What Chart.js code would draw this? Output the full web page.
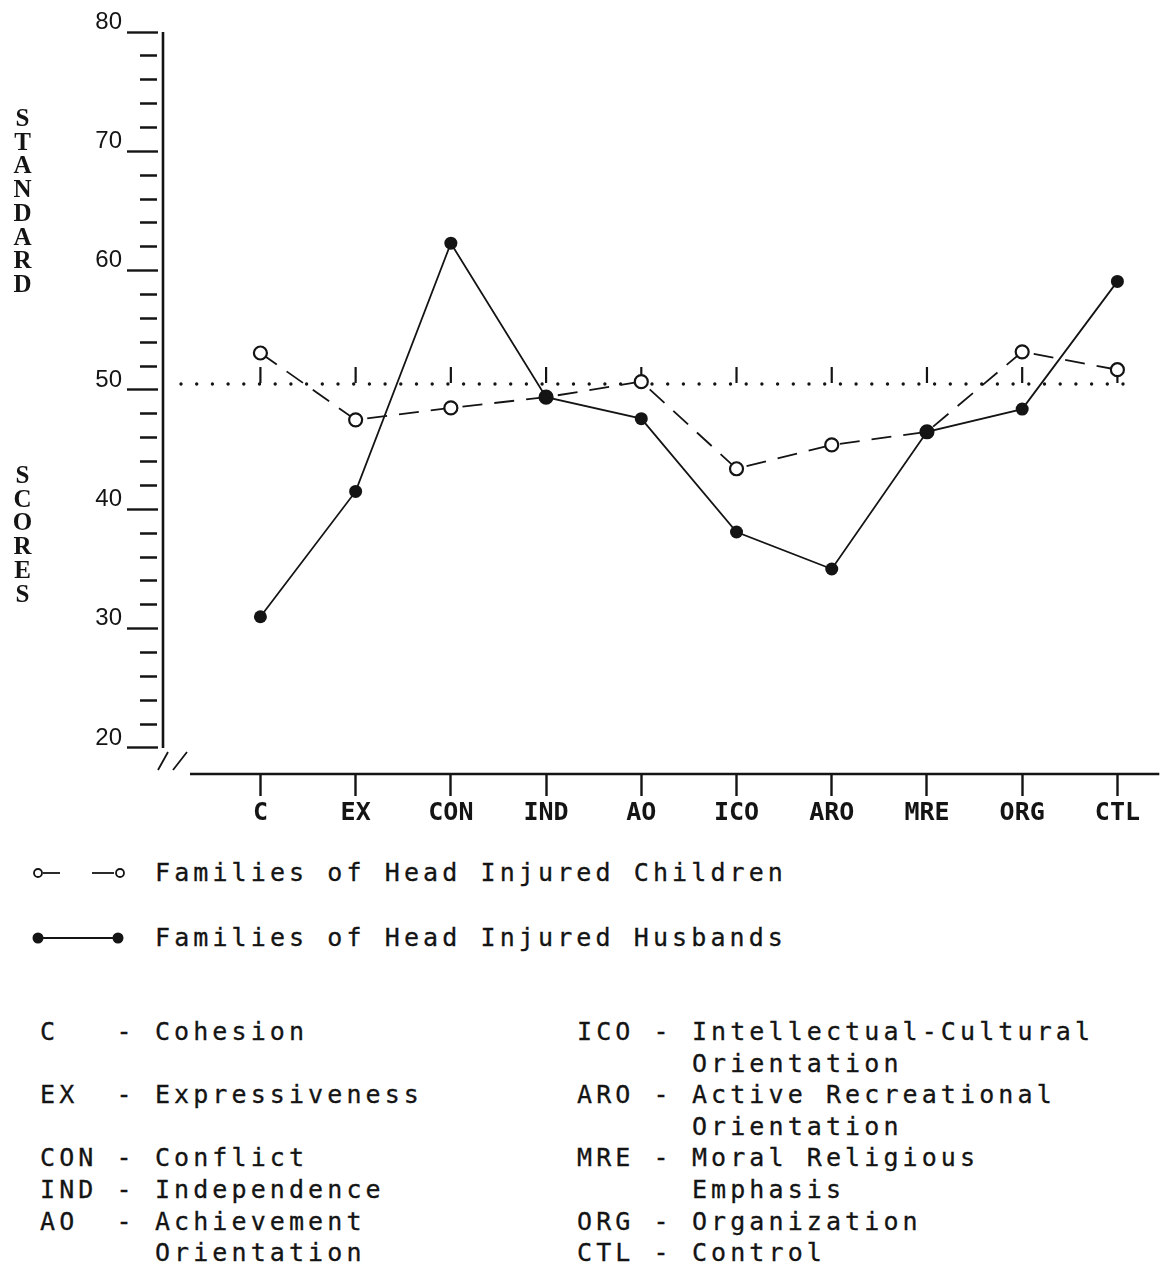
<!DOCTYPE html>
<html>
<head>
<meta charset="utf-8">
<title>Standard scores - families of head injured children and husbands</title>
<script src="https://cdn.jsdelivr.net/npm/chart.js@4.4.1/dist/chart.umd.min.js"></script>
<style>
  html, body { margin: 0; padding: 0; background: #fff; }
  body { width: 1168px; height: 1268px; position: relative; overflow: hidden; }
  #chart { position: absolute; left: 0; top: 0; }
  .ylab {
    position: absolute;
    writing-mode: vertical-lr;
    text-orientation: upright;
    font: bold 25px "Liberation Serif", serif;
    letter-spacing: -3.3px;
    line-height: 25px;
    color: #141414;
  }
  .mono {
    position: absolute;
    font: 25px "DejaVu Sans Mono", monospace;
    letter-spacing: 4.1px;
    white-space: pre;
    line-height: 31.6px;
    color: #141414;
    -webkit-text-stroke: 0.3px #141414;
  }
  svg { position: absolute; left: 0; }
</style>
</head>
<body>
<canvas id="chart" width="1168" height="840"></canvas>

<div class="ylab" style="left:10px; top:104px;">STANDARD</div>
<div class="ylab" style="left:10px; top:461px;">SCORES</div>

<!-- legend -->
<svg style="top:860px" width="140" height="26">
  <circle cx="38" cy="13" r="4" fill="#fff" stroke="#141414" stroke-width="1.8"/>
  <line x1="43" y1="13" x2="60" y2="13" stroke="#141414" stroke-width="1.8"/>
  <line x1="92" y1="13" x2="114" y2="13" stroke="#141414" stroke-width="1.8"/>
  <circle cx="120" cy="13" r="4" fill="#fff" stroke="#141414" stroke-width="1.8"/>
</svg>
<div class="mono" id="legChildren" style="left:155px; top:857px;"></div>
<svg style="top:925px" width="140" height="26">
  <line x1="38" y1="13" x2="118" y2="13" stroke="#141414" stroke-width="1.8"/>
  <circle cx="38" cy="13" r="5.5" fill="#141414"/>
  <circle cx="118" cy="13" r="5.5" fill="#141414"/>
</svg>
<div class="mono" id="legHusbands" style="left:155px; top:922px;"></div>

<!-- abbreviations -->
<div class="mono" id="keyLeft" style="left:40px; top:1016px;"></div>
<div class="mono" id="keyRight" style="left:577px; top:1016px;"></div>

<script>
// ---- data ----
const CATEGORIES = ['C', 'EX', 'CON', 'IND', 'AO', 'ICO', 'ARO', 'MRE', 'ORG', 'CTL'];
const CHILDREN = [53.1, 47.5, 48.5, 49.4, 50.7, 43.4, 45.4, 46.5, 53.2, 51.7];
const HUSBANDS = [31.0, 41.5, 62.3, 49.4, 47.6, 38.1, 35.0, 46.5, 48.4, 59.1];
const SERIES_NAMES = ['Families of Head Injured Children', 'Families of Head Injured Husbands'];
const Y_LABELS = [20, 30, 40, 50, 60, 70, 80];
const Y_STEP = 2;
const REF_LEVEL = 50.5;

// abbreviation key, two columns (blank strings keep the line grid)
const KEY_LEFT = [
  'C   - Cohesion', '',
  'EX  - Expressiveness', '',
  'CON - Conflict',
  'IND - Independence',
  'AO  - Achievement',
  '      Orientation'
];
const KEY_RIGHT = [
  'ICO - Intellectual-Cultural',
  '      Orientation',
  'ARO - Active Recreational',
  '      Orientation',
  'MRE - Moral Religious',
  '      Emphasis',
  'ORG - Organization',
  'CTL - Control'
];

// ---- look ----
const INK = '#141414';
const Y_MIN = 17.82, Y_MAX = 80;       // room below 20 for the broken x axis
const X_MIN = -1.023, X_MAX = 9.44;

document.getElementById('legChildren').textContent = SERIES_NAMES[0];
document.getElementById('legHusbands').textContent = SERIES_NAMES[1];
document.getElementById('keyLeft').textContent = KEY_LEFT.join('\n');
document.getElementById('keyRight').textContent = KEY_RIGHT.join('\n');

const yTicks = [];
for (let v = Y_LABELS[0]; v <= Y_LABELS[Y_LABELS.length - 1]; v += Y_STEP) yTicks.push(v);

// dotted reference line, axis lines and the "//" break
const framePlugin = {
  id: 'frame',
  beforeDatasetsDraw(chart) {
    const { ctx, chartArea, scales: { x, y } } = chart;
    const yRef = y.getPixelForValue(REF_LEVEL);
    ctx.save();
    ctx.strokeStyle = INK;
    ctx.lineWidth = 3.4;
    ctx.lineCap = 'round';
    ctx.setLineDash([0, 15.7]);
    ctx.beginPath();
    ctx.moveTo(chartArea.left + 18, yRef);
    ctx.lineTo(chartArea.right - 22, yRef);
    ctx.stroke();

    ctx.setLineDash([]);
    ctx.lineCap = 'butt';
    ctx.lineWidth = 2.2;
    CATEGORIES.forEach((c, i) => {
      const px = x.getPixelForValue(i);
      ctx.beginPath();
      ctx.moveTo(px, yRef - 17);
      ctx.lineTo(px, yRef - 1);
      ctx.stroke();
    });
    ctx.restore();
  },
  afterDraw(chart) {
    const { ctx, chartArea, scales: { y } } = chart;
    const left = chartArea.left, bottom = chartArea.bottom;
    ctx.save();
    ctx.strokeStyle = INK;
    ctx.lineWidth = 2.6;
    // y axis
    ctx.beginPath();
    ctx.moveTo(left, y.getPixelForValue(Y_LABELS[Y_LABELS.length - 1]));
    ctx.lineTo(left, y.getPixelForValue(Y_LABELS[0]));
    ctx.stroke();
    // x axis
    ctx.beginPath();
    ctx.moveTo(left + 27, bottom);
    ctx.lineTo(chartArea.right, bottom);
    ctx.stroke();
    // break marks
    ctx.lineWidth = 1.8;
    ctx.beginPath();
    ctx.moveTo(left - 5, bottom - 4);  ctx.lineTo(left + 5, bottom - 22);
    ctx.moveTo(left + 10, bottom - 4); ctx.lineTo(left + 24, bottom - 22);
    ctx.stroke();
    ctx.restore();
  }
};

const ctx = document.getElementById('chart').getContext('2d');
new Chart(ctx, {
  type: 'line',
  data: {
    datasets: [
      {
        label: SERIES_NAMES[1],
        data: HUSBANDS.map((v, i) => ({ x: i, y: v })),
        borderColor: INK,
        borderWidth: 1.8,
        pointRadius: 6.5,
        pointBackgroundColor: INK,
        pointBorderWidth: 0,
        tension: 0,
        order: 0
      },
      {
        label: SERIES_NAMES[0],
        data: CHILDREN.map((v, i) => ({ x: i, y: v })),
        borderColor: INK,
        borderWidth: 1.8,
        borderDash: [20, 12],
        pointRadius: 6.5,
        pointBackgroundColor: '#fff',
        pointBorderColor: INK,
        pointBorderWidth: 2.2,
        tension: 0,
        order: 1
      }
    ]
  },
  options: {
    responsive: false,
    animation: false,
    layout: { padding: { top: 32, right: 8, bottom: 0, left: 0 } },
    plugins: {
      legend: { display: false },
      tooltip: { enabled: false }
    },
    scales: {
      x: {
        type: 'linear',
        min: X_MIN,
        max: X_MAX,
        afterBuildTicks: (s) => { s.ticks = CATEGORIES.map((c, i) => ({ value: i })); },
        afterFit: (s) => { s.height = 66; },
        border: { display: false },
        grid: { drawOnChartArea: false, drawTicks: true, tickLength: 22, tickWidth: 2.4, tickColor: INK },
        ticks: {
          autoSkip: false,
          maxRotation: 0,
          padding: 2,
          color: INK,
          font: { family: 'DejaVu Sans Mono', size: 25, weight: 'bold' },
          callback: (v) => CATEGORIES[v]
        }
      },
      y: {
        min: Y_MIN,
        max: Y_MAX,
        afterBuildTicks: (s) => { s.ticks = yTicks.map(v => ({ value: v })); },
        afterFit: (s) => { s.width = 163; },
        border: { display: false },
        grid: {
          drawOnChartArea: false,
          drawTicks: true,
          tickLength: 36,
          tickWidth: 2.4,
          tickColor: INK,
          tickBorderDash: (c) => (c.tick && Y_LABELS.includes(c.tick.value)) ? [31, 40] : [0, 13, 17, 40]
        },
        ticks: {
          autoSkip: false,
          padding: 5,
          labelOffset: -10,
          color: INK,
          font: { family: 'Liberation Sans', size: 24 },
          callback: (v) => Y_LABELS.includes(v) ? String(v) : ''
        }
      }
    }
  },
  plugins: [framePlugin]
});
</script>
</body>
</html>
